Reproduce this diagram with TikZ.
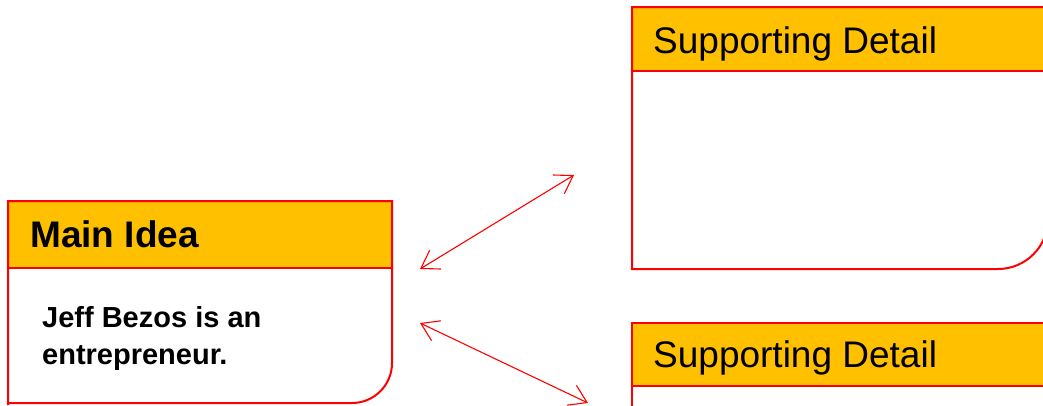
\documentclass[tikz,border=0pt]{standalone}
\usepackage{fontspec}
\setmainfont{Liberation Sans}
\usetikzlibrary{arrows.meta}
\definecolor{headfill}{HTML}{FFC000}
\definecolor{boxred}{HTML}{FF0000}
\tikzset{
  boxline/.style={draw=boxred, line width=2pt},
  headrule/.style={draw=boxred, line width=1.2pt},
  headtext/.style={anchor=base west, inner sep=0pt, font=\fontsize{37}{44}\selectfont},
  bodytext/.style={anchor=base west, inner sep=0pt, font=\fontsize{29}{37}\selectfont\bfseries},
  link/.style={draw=boxred, line width=1.1pt,
    {Straight Barb[length=17pt,width=22pt]}-{Straight Barb[length=17pt,width=22pt]}}
}
\begin{document}
\begin{tikzpicture}[x=1pt,y=-1pt]
\useasboundingbox (0,0) rectangle (1043,405);
\clip (0,0) rectangle (1043,405);

% ---- Main idea box ----
\fill[headfill] (8,201) rectangle (392,268);
\draw[headrule] (8,268) -- (392,268);
\draw[boxline] (8,405) -- (8,201) -- (392,201) -- (392,363)
  .. controls (392,385.1) and (374.1,403) .. (352,403) -- (8,403);
\node[headtext, font=\fontsize{37}{44}\selectfont\bfseries] (mainhead) at (30,247) {Main Idea};
\node[bodytext] (body1) at (42,327) {Jeff Bezos is an};
\node[bodytext] (body2) at (42,364) {entrepreneur.};

% ---- First supporting detail ----
\fill[headfill] (632,7) rectangle (1050,71);
\draw[headrule] (632,71) -- (1050,71);
\draw[boxline] (1048,219) .. controls (1048,246.6) and (1025.6,269) .. (998,269)
  -- (632,269) -- (632,7) -- (1050,7);
\node[headtext] (detailhead1) at (653,53) {Supporting Detail};

% ---- Second supporting detail ----
\fill[headfill] (632,323) rectangle (1050,386);
\draw[headrule] (632,386) -- (1050,386);
\draw[boxline, line width=2.6pt] (632,410) -- (632,323) -- (1050,323);
\node[headtext] (detailhead2) at (653,367) {Supporting Detail};

% ---- Connectors ----
\coordinate (mainA) at (420,269);
\coordinate (detailA) at (574,175);
\coordinate (mainB) at (420,323);
\coordinate (detailB) at (588,403);
\draw[link] (mainA) -- (detailA);
\draw[link] (mainB) -- (detailB);
\end{tikzpicture}
\end{document}
